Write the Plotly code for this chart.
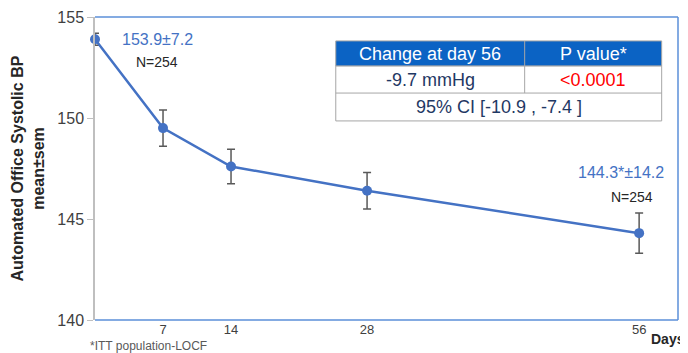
import plotly.graph_objects as go

days = [0, 7, 14, 28, 56]
means = [153.9, 149.5, 147.6, 146.4, 144.3]
sems = [0.3, 0.9, 0.85, 0.9, 1.0]
x_ticks = [7, 14, 28, 56]
y_ticks = [140, 145, 150, 155]
table_header = ["Change at day 56", "P value*"]
table_row1 = ["-9.7 mmHg", "<0.0001"]
table_row2 = "95% CI [-10.9 , -7.4 ]"

BLUE = "#4472C4"
HEAD = "#0B63C4"
NAVY = "#1F3864"

fig = go.Figure()
fig.add_trace(go.Scatter(
    x=days, y=means, mode="lines+markers",
    line=dict(color=BLUE, width=2.5),
    marker=dict(color=BLUE, size=10),
    error_y=dict(type="data", array=sems, color="#595959", thickness=1.5, width=4),
    cliponaxis=False, showlegend=False,
))

# the page body adds an 8px offset, so the figure is 8px smaller
fig.update_layout(
    width=680, height=345,
    margin=dict(l=87, r=10, t=9, b=33),
    paper_bgcolor="white", plot_bgcolor="white",
    font=dict(family="Arial, Liberation Sans, sans-serif", color="#404040"),
    xaxis=dict(range=[0, 60], tickvals=x_ticks, ticktext=[str(v) for v in x_ticks],
               showgrid=False, zeroline=False, showline=False, ticks="",
               automargin=False, ticklabelstandoff=0,
               tickfont=dict(size=13, color="#404040")),
    yaxis=dict(range=[140, 155], tickvals=y_ticks, showgrid=False, zeroline=False,
               showline=True, linecolor="#BFBFBF", linewidth=1.5,
               ticks="outside", ticklen=6, tickcolor="#BFBFBF",
               automargin=False,
               tickfont=dict(size=16, color="#404040")),
)

# y-axis title
fig.add_annotation(xref="paper", yref="paper", x=-0.115, y=0.50, xanchor="center", yanchor="middle",
                   text="<b>Automated Office Systolic BP<br>mean±sem</b>", textangle=-90,
                   showarrow=False, font=dict(size=16, color="#262626"))

# plot frame (blue top/right/bottom)
for (x0, x1, y0, y1) in [(0, 1, 1, 1), (1, 1, 0, 1), (0, 1, 0, 0)]:
    fig.add_shape(type="line", xref="paper", yref="paper", x0=x0, x1=x1, y0=y0, y1=y1,
                  line=dict(color="#5B8FD9", width=1.5))

# point labels
fig.add_annotation(x=days[0], y=means[0], text=f"{means[0]}±7.2", xref="x", yref="y",
                   showarrow=False, xanchor="center", yanchor="middle", xshift=62, yshift=0,
                   font=dict(size=16, color=BLUE))
fig.add_annotation(x=days[0], y=means[0], text="N=254", xref="x", yref="y",
                   showarrow=False, xanchor="center", yanchor="middle", xshift=62, yshift=-23,
                   font=dict(size=14, color="#262626"))
fig.add_annotation(x=days[-1], y=means[-1], text=f"{means[-1]}*±14.2", xref="x", yref="y",
                   showarrow=False, xanchor="center", yanchor="middle", xshift=-18, yshift=61,
                   font=dict(size=16, color=BLUE))
fig.add_annotation(x=days[-1], y=means[-1], text="N=254", xref="x", yref="y",
                   showarrow=False, xanchor="center", yanchor="middle", xshift=-7, yshift=36,
                   font=dict(size=14, color="#262626"))

# axis extras
fig.add_annotation(xref="paper", yref="paper", x=0.983, y=0, yshift=-19, xanchor="center",
                   yanchor="middle", text="<b>Days</b>", showarrow=False,
                   font=dict(size=14, color="#262626"))
fig.add_annotation(xref="paper", yref="paper", x=-0.012, y=0, yshift=-26, xanchor="left",
                   yanchor="middle", text="*ITT population-LOCF", showarrow=False,
                   font=dict(size=12, color="#595959"))

# table
tx0, tsplit, tx1 = 0.413, 0.737, 0.972
ty0, ty1, ty2, ty3 = 0.921, 0.838, 0.749, 0.657
fig.add_shape(type="rect", xref="paper", yref="paper", x0=tx0, x1=tx1, y0=ty1, y1=ty0,
              fillcolor=HEAD, line=dict(color="#A6A6A6", width=1))
fig.add_shape(type="rect", xref="paper", yref="paper", x0=tx0, x1=tx1, y0=ty3, y1=ty1,
              fillcolor="white", line=dict(color="#A6A6A6", width=1))
fig.add_shape(type="line", xref="paper", yref="paper", x0=tx0, x1=tx1, y0=ty2, y1=ty2,
              line=dict(color="#A6A6A6", width=1))
fig.add_shape(type="line", xref="paper", yref="paper", x0=tsplit, x1=tsplit, y0=ty2, y1=ty0,
              line=dict(color="#A6A6A6", width=1))

cells = [
    ((tx0 + tsplit) / 2, (ty0 + ty1) / 2, table_header[0], "white"),
    ((tsplit + tx1) / 2, (ty0 + ty1) / 2, table_header[1], "white"),
    ((tx0 + tsplit) / 2, (ty1 + ty2) / 2, table_row1[0], NAVY),
    ((tsplit + tx1) / 2, (ty1 + ty2) / 2, table_row1[1], "#FF0000"),
    ((tx0 + tx1) / 2, (ty2 + ty3) / 2, table_row2, NAVY),
]
for cx, cy, txt, col in cells:
    fig.add_annotation(xref="paper", yref="paper", x=cx, y=cy, xanchor="center", yanchor="middle",
                       text=txt, showarrow=False, font=dict(size=18, color=col))

fig.write_html("out.html")
